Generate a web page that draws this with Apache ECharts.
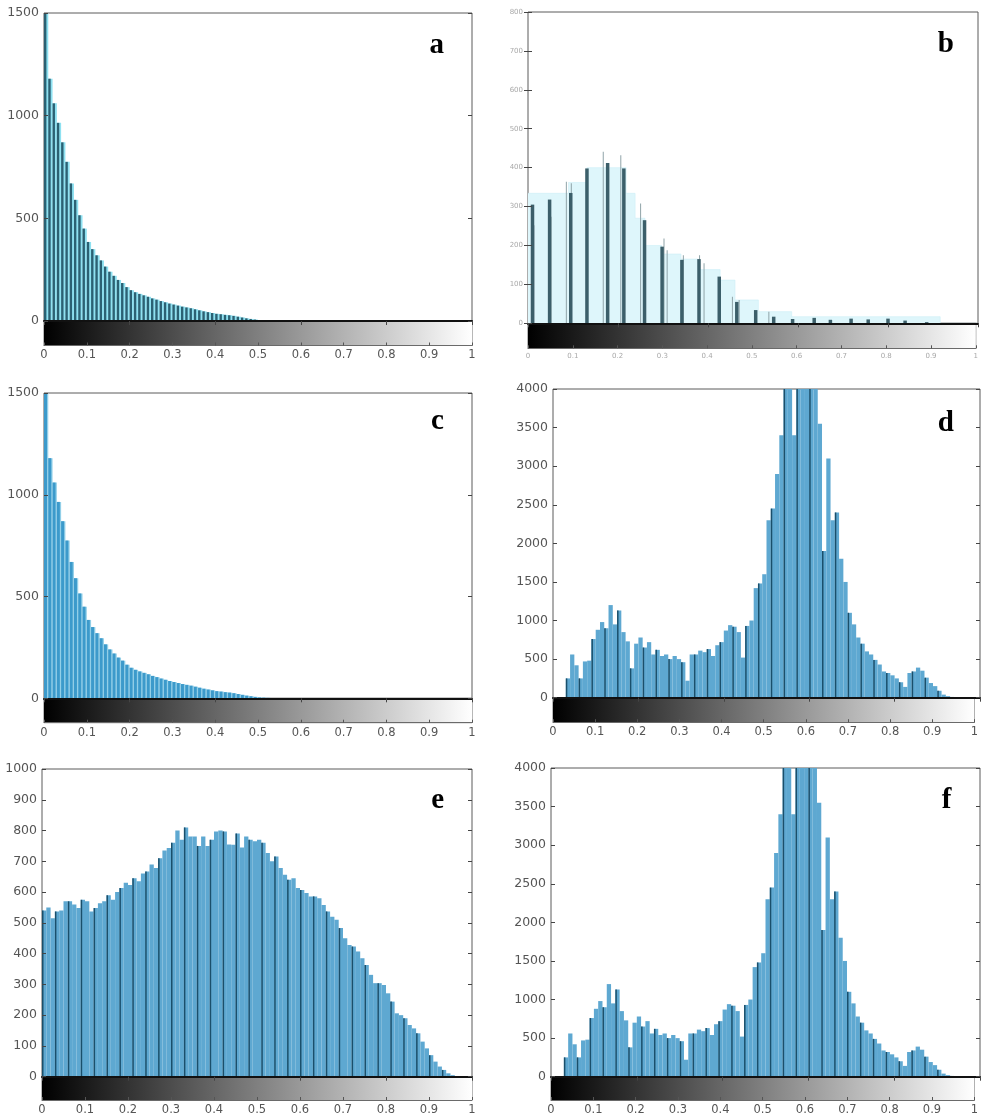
<!DOCTYPE html>
<html>
<head>
<meta charset="utf-8">
<script src="https://cdn.jsdelivr.net/npm/echarts@6/dist/echarts.min.js"></script>
<style>
html,body{margin:0;padding:0;background:#ffffff;}
#chart{width:981px;height:1116px;}
</style>
</head>
<body>
<div id="chart"></div>
<script>
// ---------- DATA ----------
// 100 bins of width 0.01 over [0,1]
// panels a and c (same image histogram)
const histAC = [
  1560, 1180, 1060, 965, 870, 775, 670, 590, 515, 450,
  385, 350, 320, 295, 265, 240, 220, 200, 185, 165,
  150, 140, 132, 125, 118, 110, 104, 97, 91, 85,
  80, 75, 70, 66, 62, 57, 52, 47, 43, 39,
  35, 33, 30, 28, 25, 21, 17, 13, 10, 7,
  4, 3, 2, 1, 1, 0, 0, 0, 0, 0,
  0, 0, 0, 0, 0, 0, 0, 0, 0, 0,
  0, 0, 0, 0, 0, 0, 0, 0, 0, 0,
  0, 0, 0, 0, 0, 0, 0, 0, 0, 0,
  0, 0, 0, 0, 0, 0, 0, 0, 0, 0
];
// panels d and f (same image histogram, peak clipped at 4000)
const histDF = [
  0, 0, 0, 250, 560, 420, 250, 470, 480, 760,
  880, 980, 900, 1200, 950, 1130, 850, 730, 380, 700,
  780, 650, 720, 560, 620, 540, 560, 500, 540, 500,
  460, 220, 560, 560, 610, 590, 630, 540, 680, 720,
  870, 940, 920, 850, 520, 930, 1000, 1420, 1480, 1600,
  2300, 2450, 2900, 3400, 4800, 4800, 3400, 4700, 4800, 4800,
  4800, 4600, 3550, 1900, 3100, 2300, 2400, 1800, 1500, 1100,
  950, 780, 700, 600, 560, 490, 430, 340, 320, 290,
  250, 200, 140, 320, 340, 390, 350, 260, 190, 150,
  90, 40, 20, 10, 5, 0, 0, 0, 0, 0
];
// panel e
const histE = [
  540, 550, 515, 537, 540, 570, 570, 560, 548, 575,
  570, 537, 548, 564, 570, 590, 575, 600, 613, 630,
  623, 645, 635, 660, 667, 690, 678, 710, 735, 743,
  760, 800, 770, 810, 781, 781, 750, 781, 750, 770,
  797, 800, 797, 755, 754, 790, 745, 781, 770, 765,
  770, 760, 727, 700, 716, 678, 656, 640, 645, 613,
  607, 597, 586, 586, 580, 558, 537, 520, 510, 483,
  450, 428, 423, 407, 385, 363, 331, 304, 304, 298,
  271, 244, 206, 200, 190, 168, 157, 141, 114, 92,
  70, 49, 33, 22, 11, 5, 0, 0, 0, 0
];
// panel b : sparse spikes
const spikeX = [0.010, 0.048, 0.095, 0.131, 0.177, 0.213, 0.259, 0.298, 0.342, 0.380, 0.425,
                0.464, 0.506, 0.546, 0.588, 0.636, 0.672, 0.718, 0.756, 0.800, 0.838, 0.886];
const spikeY = [305, 318, 335, 398, 412, 398, 265, 197, 163, 165, 120,
                55, 34, 17, 11, 14, 9, 12, 10, 12, 7, 3];
const thinX = [0.016, 0.054, 0.088, 0.099, 0.170, 0.209, 0.253, 0.305, 0.312, 0.348, 0.384, 0.394, 0.457, 0.472, 0.538];
const thinY = [252, 274, 364, 360, 441, 432, 308, 218, 188, 175, 175, 154, 68, 60, 30];
const envX = [0, 0.09, 0.131, 0.218, 0.238, 0.26, 0.297, 0.34, 0.379, 0.427, 0.46, 0.512, 0.586, 0.916, 1];
const envY = [334, 362, 400, 334, 270, 200, 178, 165, 138, 111, 60, 30, 17, 0, 0];

const panelLetters = ['a', 'b', 'c', 'd', 'e', 'f'];
const yMaxes = [1500, 800, 1500, 4000, 1000, 4000];
const ySteps = [500, 100, 500, 500, 100, 500];
const binLabels = histAC.map(function (_, i) { return String(i); });

// ---------- LAYOUT / STYLE ----------
const layouts = [
  {left: 44,  top: 13,  width: 428, height: 308,   cb: 24.5, letterX: 436.7, letterY: 45.5},
  {left: 528, top: 12,  width: 450, height: 311.3, cb: 25,   letterX: 945.8, letterY: 44.6},
  {left: 44,  top: 393, width: 428, height: 305.3, cb: 24.4, letterX: 437.5, letterY: 422},
  {left: 553, top: 389, width: 427, height: 308.7, cb: 24.5, letterX: 945.8, letterY: 423.3},
  {left: 42,  top: 769, width: 430, height: 307.7, cb: 24.3, letterX: 437.8, letterY: 801},
  {left: 551, top: 768, width: 429, height: 308.7, cb: 24.3, letterX: 946.7, letterY: 800.6}
];
const styles = [
  {fill: '#8ee1f1', stripe: '#2b6173', stripeW: 2.4, nth: 1},
  null,
  {fill: '#92cfe8', stripe: '#3c9acb', stripeW: 3,   nth: 1},
  {fill: '#5ea8d1', stripe: '#1a4f6b', stripeW: 1.5, nth: 3},
  {fill: '#5ea8d1', stripe: '#1a4f6b', stripeW: 1.5, nth: 3},
  {fill: '#5ea8d1', stripe: '#1a4f6b', stripeW: 1.5, nth: 3}
];
const histData = [histAC, null, histAC, histDF, histE, histDF];

const FONT = 'DejaVu Sans';
const grayGradient = new echarts.graphic.LinearGradient(0, 0, 1, 0, [
  {offset: 0, color: '#000000'},
  {offset: 1, color: '#ffffff'}
]);
function plainNumber(v) { return String(Math.round(v)); }

const grids = [], xAxes = [], yAxes = [], series = [], graphics = [];

panelLetters.forEach(function (letter, k) {
  const L = layouts[k];
  const small = (letter === 'b');
  const gH = grids.length;
  grids.push({left: L.left, top: L.top, width: L.width, height: L.height,
              show: true, borderColor: '#5a5a5a', borderWidth: 1, backgroundColor: 'transparent'});
  const gC = grids.length;
  grids.push({left: L.left, top: L.top + L.height, width: L.width, height: L.cb,
              show: true, borderColor: '#707070', borderWidth: 1, backgroundColor: 'transparent'});

  // histogram bottom axis (thick zero line)
  const xB = xAxes.length;
  const zeroLine = {show: true, onZero: false, lineStyle: {color: '#111111', width: 2}};
  if (small) {
    xAxes.push({type: 'value', gridIndex: gH, min: 0, max: 1, position: 'bottom', z: 10,
                axisLine: zeroLine, axisTick: {show: false}, axisLabel: {show: false}, splitLine: {show: false}});
  } else {
    xAxes.push({type: 'category', gridIndex: gH, data: binLabels, boundaryGap: true, position: 'bottom', z: 10,
                axisLine: zeroLine, axisTick: {show: false}, axisLabel: {show: false}, splitLine: {show: false}});
  }
  // top ticks
  xAxes.push({type: 'value', gridIndex: gH, min: 0, max: 1, interval: 0.2, position: 'top', z: 10,
              axisLine: {show: false},
              axisTick: {show: true, inside: true, length: 4, lineStyle: {color: '#444'}},
              axisLabel: {show: false}, splitLine: {show: false}});
  // y axes
  const yL = yAxes.length;
  yAxes.push({type: 'value', gridIndex: gH, min: 0, max: yMaxes[k], interval: ySteps[k], position: 'left', z: 10,
              axisLine: {show: false},
              axisTick: {show: true, inside: true, length: 4, lineStyle: {color: '#444'}},
              axisLabel: {show: true, margin: 5, fontSize: small ? 7 : 12.5, formatter: plainNumber,
                          color: small ? '#a8a8a8' : '#555555', fontFamily: FONT},
              splitLine: {show: false}});
  yAxes.push({type: 'value', gridIndex: gH, min: 0, max: yMaxes[k], interval: ySteps[k], position: 'right', z: 10,
              axisLine: {show: false},
              axisTick: {show: true, inside: true, length: 4, lineStyle: {color: '#444'}},
              axisLabel: {show: false}, splitLine: {show: false}});
  // colorbar axes
  const xCb = xAxes.length;
  xAxes.push({type: 'value', gridIndex: gC, min: 0, max: 1, interval: 0.1, position: 'bottom', z: 10,
              axisLine: {show: true, lineStyle: {color: '#6a6a6a', width: 1}},
              axisTick: {show: true, inside: true, length: 3, lineStyle: {color: '#555'}},
              axisLabel: {show: true, margin: 4, fontSize: small ? 7 : 11.5,
                          color: small ? '#a8a8a8' : '#555555', fontFamily: FONT, hideOverlap: false},
              splitLine: {show: false}});
  const xCbCat = xAxes.length;
  xAxes.push({type: 'category', gridIndex: gC, data: ['gray'], show: false, boundaryGap: true});
  const yCb = yAxes.length;
  yAxes.push({type: 'value', gridIndex: gC, min: 0, max: 1, show: false});

  series.push({type: 'bar', name: 'colorbar-' + letter, xAxisIndex: xCbCat, yAxisIndex: yCb,
               data: [1], barWidth: '100%', itemStyle: {color: grayGradient}, silent: true, z: 1});

  if (small) {
    series.push({type: 'line', name: 'envelope-b', xAxisIndex: xB, yAxisIndex: yL, step: 'end',
                 data: envX.map(function (x, i) { return [x, envY[i]]; }),
                 symbol: 'none', lineStyle: {width: 0.6, color: '#cdeff6'},
                 areaStyle: {color: '#def6fb', opacity: 1}, z: 1, silent: true});
    series.push({type: 'bar', name: 'thin-b', xAxisIndex: xB, yAxisIndex: yL,
                 data: thinX.map(function (x, i) { return [x, thinY[i]]; }),
                 barWidth: 1, barGap: '-100%', itemStyle: {color: '#8fa3a8'}, z: 3, clip: true, silent: true});
    series.push({type: 'bar', name: 'spikes-b', xAxisIndex: xB, yAxisIndex: yL,
                 data: spikeX.map(function (x, i) { return [x, spikeY[i]]; }),
                 barWidth: 3.5, barGap: '-100%', itemStyle: {color: '#3c5f6a'}, z: 4, clip: true, silent: true});
  } else {
    const S = styles[k];
    const vals = histData[k];
    const stripeVals = vals.map(function (v, i) { return (i % S.nth === 0) ? v : '-'; });
    series.push({type: 'bar', name: 'stripe-' + letter, xAxisIndex: xB, yAxisIndex: yL,
                 data: stripeVals, barWidth: S.stripeW, barGap: '-100%',
                 itemStyle: {color: S.stripe}, z: 4, clip: true, silent: true});
    series.push({type: 'bar', name: 'hist-' + letter, xAxisIndex: xB, yAxisIndex: yL,
                 data: vals, barWidth: '100%', barGap: '-100%',
                 itemStyle: {color: S.fill}, z: 3, clip: true, silent: true});
  }

  graphics.push({type: 'text', x: L.letterX, y: L.letterY, z: 100,
                 style: {text: letter, fill: '#000000', font: 'bold 29px "Liberation Serif"',
                         textAlign: 'center', textVerticalAlign: 'middle'}});
});

const chart = echarts.init(document.getElementById('chart'), null, {renderer: 'canvas'});
chart.setOption({
  animation: false,
  backgroundColor: '#ffffff',
  grid: grids,
  xAxis: xAxes,
  yAxis: yAxes,
  series: series,
  graphic: graphics
});
</script>
</body>
</html>
